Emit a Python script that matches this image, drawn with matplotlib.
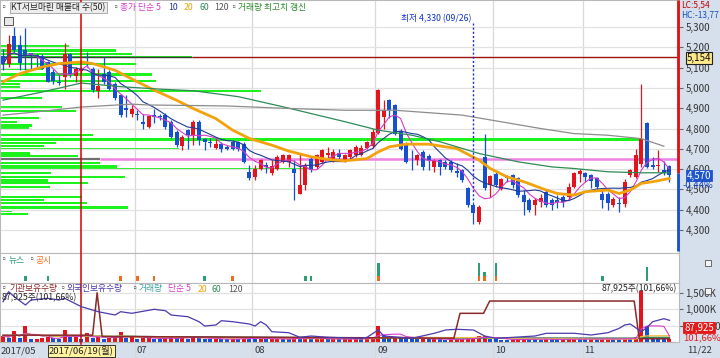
import numpy as np
import pandas as pd
import matplotlib
matplotlib.use('Agg')
import matplotlib.pyplot as plt
from matplotlib.patches import Rectangle
from matplotlib.ticker import FuncFormatter

plt.rcParams['font.family'] = ['Noto Sans CJK KR', 'DejaVu Sans']
plt.rcParams['axes.unicode_minus'] = False

# ---------------- data (KT서브마린, 2017/05/29 ~ 2017/11/22, 일봉) ----------------
opens = [5156, 5116, 5254, 5210, 5185, 5170, 5160, 5155, 5128, 5080,
         5030, 5054, 5169, 5057, 5082, 5125, 5095, 4987, 5070, 5080,
         5020, 4964, 4900, 4874, 4870, 4833, 4808, 4866, 4862, 4869,
         4833, 4784, 4713, 4795, 4767, 4833, 4748, 4732, 4705, 4726,
         4710, 4734, 4734, 4726, 4587, 4562, 4603, 4620, 4580, 4603,
         4636, 4636, 4603, 4480, 4521, 4652, 4611, 4636, 4669, 4644,
         4680, 4644, 4660, 4669, 4669, 4705, 4713, 4779, 4859, 4939,
         4915, 4790, 4726, 4652, 4644, 4685, 4664, 4611, 4644, 4636,
         4636, 4590, 4595, 4505, 4423, 4340, 4661, 4521, 4575, 4500,
         4562, 4570, 4554, 4472, 4448, 4423, 4439, 4489, 4448, 4448,
         4464, 4464, 4513, 4575, 4580, 4570, 4554, 4480, 4480, 4423,
         4435, 4430, 4570, 4562, 4625, 4825, 4620, 4615, 4598, 4615]
highs = [5193, 5259, 5300, 5259, 5297, 5172, 5165, 5168, 5135, 5095,
         5062, 5223, 5170, 5103, 5103, 5178, 5103, 5095, 5153, 5087,
         5030, 4972, 4964, 4915, 4890, 4874, 4869, 4898, 4870, 4877,
         4841, 4792, 4767, 4800, 4841, 4841, 4751, 4751, 4751, 4734,
         4718, 4743, 4740, 4734, 4620, 4620, 4652, 4636, 4644, 4669,
         4677, 4677, 4644, 4677, 4628, 4661, 4677, 4701, 4710, 4701,
         4701, 4677, 4701, 4718, 4718, 4741, 4796, 4997, 4939, 4943,
         4923, 4800, 4734, 4693, 4677, 4693, 4677, 4652, 4652, 4644,
         4644, 4628, 4603, 4513, 4439, 4423, 4775, 4570, 4595, 4554,
         4570, 4575, 4562, 4497, 4456, 4456, 4480, 4497, 4456, 4472,
         4472, 4530, 4587, 4603, 4587, 4575, 4562, 4505, 4489, 4464,
         4464, 4550, 4603, 4701, 5021, 4830, 4660, 4693, 4640, 4620]
lows = [5087, 5103, 5177, 5087, 5087, 5095, 5100, 5092, 5030, 5018,
        5015, 4997, 5054, 5030, 5075, 5105, 4980, 4950, 5020, 4990,
        4940, 4857, 4858, 4857, 4840, 4800, 4805, 4825, 4840, 4800,
        4751, 4710, 4693, 4700, 4718, 4718, 4693, 4710, 4700, 4685,
        4692, 4692, 4690, 4628, 4546, 4546, 4595, 4580, 4570, 4595,
        4628, 4611, 4446, 4480, 4497, 4587, 4603, 4628, 4644, 4636,
        4644, 4636, 4652, 4661, 4665, 4697, 4705, 4771, 4800, 4853,
        4767, 4693, 4628, 4595, 4620, 4595, 4595, 4587, 4570, 4603,
        4587, 4562, 4538, 4415, 4330, 4330, 4497, 4464, 4513, 4497,
        4538, 4505, 4464, 4374, 4390, 4374, 4415, 4415, 4398, 4407,
        4415, 4448, 4505, 4538, 4538, 4505, 4497, 4407, 4398, 4415,
        4390, 4415, 4562, 4554, 4610, 4605, 4603, 4587, 4570, 4538]
closes = [5116, 5215, 5185, 5123, 5156, 5160, 5150, 5095, 5030, 5033,
          5022, 5169, 5070, 5095, 5092, 5120, 4990, 5008, 5030, 4997,
          4950, 4866, 4890, 4898, 4865, 4820, 4860, 4857, 4858, 4808,
          4760, 4718, 4759, 4767, 4833, 4743, 4735, 4728, 4726, 4697,
          4697, 4700, 4700, 4636, 4554, 4603, 4644, 4610, 4616, 4661,
          4669, 4669, 4579, 4521, 4620, 4595, 4669, 4693, 4681, 4685,
          4660, 4669, 4693, 4710, 4705, 4734, 4784, 4990, 4890, 4890,
          4775, 4700, 4636, 4648, 4669, 4611, 4644, 4644, 4611, 4611,
          4595, 4580, 4546, 4423, 4382, 4415, 4505, 4566, 4521, 4550,
          4554, 4521, 4472, 4439, 4398, 4448, 4456, 4423, 4423, 4440,
          4439, 4513, 4579, 4590, 4560, 4541, 4513, 4448, 4431, 4451,
          4430, 4538, 4595, 4669, 4750, 4612, 4611, 4622, 4580, 4570]
volumes = [190, 120, 330, 120, 500, 90, 90, 120, 150, 120,
           80, 370, 150, 150, 90, 280, 120, 150, 90, 120,
           150, 300, 120, 150, 90, 120, 150, 90, 80, 120,
           150, 120, 150, 90, 180, 120, 90, 80, 100, 90,
           80, 90, 80, 150, 120, 100, 110, 80, 90, 110,
           90, 80, 150, 120, 130, 90, 100, 110, 80, 90,
           80, 90, 100, 110, 90, 120, 150, 500, 220, 160,
           160, 150, 130, 100, 90, 110, 80, 90, 80, 70,
           80, 90, 90, 120, 130, 170, 190, 90, 80, 70,
           60, 70, 80, 100, 90, 80, 70, 90, 80, 70,
           80, 90, 100, 90, 80, 90, 80, 100, 110, 80,
           70, 130, 110, 150, 1550, 480, 150, 110, 85, 88]  # 천주
last_volume = 87925

month_labels = ['2017/05', '07', '08', '09', '10', '11']
month_idx = [0, 24, 45, 67, 88, 104]
last_label = '11/22'
cursor_idx = 14
cursor_label = '2017/06/19(월)'
low_idx = 84
low_date = '09/26'

# 장기 이동평균
ma20_idx = [0, 3, 7, 10, 14, 16, 20, 24, 27, 31, 34, 38, 41, 44, 48, 51, 55, 58, 61, 65,
            67, 69, 72, 76, 79, 81, 85, 87, 90, 93, 97, 99, 102, 104, 108, 110, 112, 114, 116, 119]
ma20_val = [5030, 5070, 5103, 5120, 5128, 5120, 5087, 5030, 4989, 4939, 4898, 4849, 4792, 4751,
            4718, 4689, 4661, 4648, 4641, 4652, 4685, 4710, 4723, 4723, 4710, 4702, 4644, 4603,
            4562, 4538, 4497, 4480, 4472, 4489, 4497, 4480, 4497, 4530, 4538, 4554]
ma60_idx = [0, 7, 14, 21, 28, 34, 42, 50, 61, 67, 73, 78, 82, 85, 92, 98, 102, 108, 114, 119]
ma60_val = [4940, 4980, 5024, 5006, 4994, 4986, 4957, 4907, 4834, 4792, 4767, 4735, 4702, 4677,
            4636, 4611, 4603, 4587, 4582, 4582]
ma120_idx = [0, 7, 14, 23, 26, 40, 50, 61, 70, 82, 89, 96, 102, 108, 114, 118]
ma120_val = [4866, 4885, 4906, 4920, 4916, 4911, 4900, 4890, 4890, 4866, 4833, 4800, 4775, 4767,
             4750, 4713]

# 매물대 (가격대별 거래량)
vp_price = [5206, 5183, 5167, 5152, 5118, 5093, 5068, 5034, 5019, 5004, 4985, 4950, 4906, 4886,
            4852, 4832, 4817, 4802, 4768, 4748, 4729, 4714, 4699, 4679, 4665, 4630, 4615, 4601,
            4581, 4561, 4546, 4532, 4512, 4463, 4448, 4433, 4413, 4394, 4379]
vp_vol = [690, 1170, 1330, 1930, 1370, 430, 1530, 1570, 200, 200, 2620, 420, 620, 760,
          390, 170, 320, 290, 930, 6430, 560, 440, 1800, 300, 780, 1000, 1180, 3100,
          510, 1260, 480, 880, 500, 820, 440, 870, 1290, 120, 280]
line_high = 5154
line_mid = 4650

# 뉴스 / 공시
news_idx = [4, 8, 21, 24, 27, 36, 41, 54, 55, 67, 85, 86, 88, 107, 115]
news_cnt = [1, 1, 0, 0, 0, 1, 0, 1, 1, 3, 3, 1, 3, 1, 3]
disc_cnt = [0, 0, 1, 1, 1, 0, 1, 0, 0, 1, 1, 1, 1, 0, 0]

# 기관 / 외국인 보유수량
inst_idx = [0, 16, 16.8, 17.7, 60, 80.5, 81.6, 85.8, 86.9, 112.7, 113.6, 119]
inst_val = [25, 25, 180, 20, 16, 14, 105, 105, 150, 150, 12, 12]
frgn_idx = [0, 1, 2, 4, 5, 8, 10, 11, 14, 17, 20, 21, 23, 27, 29, 30, 33, 35, 36, 38,
            39, 41, 44, 45, 46, 47, 48, 51, 53, 55, 58, 64, 65, 67, 68, 73, 77, 79, 81, 84,
            86, 88, 90, 95, 97, 102, 105, 108, 110, 111, 112, 114, 115, 116, 118, 119]
frgn_val = [403, 503, 453, 370, 420, 437, 420, 437, 353, 303, 270, 303, 287, 327, 313, 270, 253, 203, 160, 170,
            213, 203, 180, 160, 203, 170, 103, 93, 47, 60, 47, 37, 47, 120, 60, 37, 87, 120, 127, 120,
            60, 37, 43, 60, 87, 87, 70, 93, 136, 170, 180, 103, 147, 203, 233, 217]

# ---------------- style ----------------
RED = '#E3141B'
BLUE = '#1550D0'
C5 = '#D63CCB'
C10 = '#1F3A95'
C20 = '#F2A20C'
C60 = '#2E8B57'
C120 = '#8C8C8C'
LIME = '#1CF21C'
PANEL = '#D6E0EC'
GRID = '#E2E2E2'
FS = 6.3

W, H = 720, 358
fig = plt.figure(figsize=(W / 100, H / 100), dpi=100, facecolor=PANEL)


def fx(px):
    return px / W


def fy(py):
    return 1 - py / H


def ftext(x, y, s, **kw):
    kw.setdefault('fontsize', FS)
    kw.setdefault('va', 'center')
    return fig.text(fx(x), fy(y), s, **kw)


xr = 679
xlim = (-0.54, 120.7)
ax = fig.add_axes([0, fy(253), fx(xr), 253 / H])
ax_news = fig.add_axes([0, fy(283), fx(xr), 30 / H])
ax_vol = fig.add_axes([0, fy(342), fx(xr), 59 / H])
ax_date = fig.add_axes([0, 0, fx(xr), 16 / H])

for a in (ax, ax_news, ax_vol, ax_date):
    a.set_xlim(*xlim)
    a.set_xticks([])
    for s in a.spines.values():
        s.set_color('#B8B8B8')
        s.set_linewidth(0.8)
    for m in month_idx[1:]:
        a.axvline(m - 0.5, color='#D8D8D8', lw=0.9, zorder=0)
ax_date.set_facecolor('none')
ax_date.set_yticks([])
for s in ax_date.spines.values():
    s.set_visible(False)

x = np.arange(len(closes))
o = np.array(opens)
c = np.array(closes)
up = c >= o
cols = np.where(up, RED, BLUE)

# ---- 가격 패널 ----
ax.set_ylim(4187, 5433)
ax.set_yticks(range(4300, 5301, 100))
ax.yaxis.tick_right()
ax.yaxis.set_major_formatter(FuncFormatter(lambda v, p: f'{int(v):,}'))
ax.tick_params(axis='y', direction='out', length=3, pad=1.5, labelsize=7,
               color='#666666', labelcolor='#333333')
ax.grid(axis='y', color=GRID, lw=0.9, zorder=0)

scale = 114.3 / max(vp_vol)
vp_w = np.array(vp_vol) * scale
ax.barh(vp_price, vp_w, left=xlim[0], height=14, color=LIME, zorder=1)

# 매물대 끝에 걸친 구간은 어둡게
hi_end = xlim[0] + vp_w[vp_price.index(5152)]
ax.hlines(line_high, hi_end, xlim[1], color='#A01010', lw=1.0, zorder=2)
ax.hlines(line_high, xlim[0], hi_end, color='#3A3A3A', lw=1.0, zorder=2)
mid_end = xlim[0] + vp_w[vp_price.index(4630)]
ax.hlines(line_mid, mid_end, xlim[1], color='#EE80E6', lw=1.8, zorder=2)
ax.hlines(line_mid, xlim[0], mid_end, color='#707070', lw=1.6, zorder=2)

ax.vlines(x, lows, highs, colors=cols, lw=0.9, zorder=3)
ax.bar(x, np.maximum(np.abs(c - o), 4), bottom=np.minimum(o, c), width=0.72,
       color=cols, linewidth=0, zorder=3.1)

cs = pd.Series(closes)
ax.plot(x, cs.rolling(5, min_periods=1).mean(), color=C5, lw=0.8, zorder=4)
ax.plot(x, cs.rolling(10, min_periods=1).mean(), color=C10, lw=0.8, zorder=4)
ax.plot(ma20_idx, ma20_val, color=C20, lw=2.0, zorder=4, solid_capstyle='round')
ax.plot(ma60_idx, ma60_val, color=C60, lw=0.9, zorder=4)
ax.plot(ma120_idx, ma120_val, color=C120, lw=0.9, zorder=4)

ax.vlines(low_idx, highs[low_idx] + 10, 5322, colors='#1030E0', lw=1.0,
          linestyles=(0, (1.5, 1.5)), zorder=4)
ax.text(low_idx - 0.4, 5340, f'최저 {lows[low_idx]:,} ({low_date})', color='#1030D0',
        fontsize=FS, ha='right', va='center', zorder=5)

# 오른쪽 끝 상승/하락 표시줄
ax.vlines(120.5, closes[-1] + 10, 5433, colors='#E01010', lw=2, zorder=5, clip_on=False)
ax.vlines(120.5, 4195, closes[-1] + 10, colors=BLUE, lw=2, zorder=5, clip_on=False)

for a in (ax, ax_news, ax_vol):
    a.axvline(cursor_idx, color='#D40000', lw=1.1, zorder=6)

# 상단 범례
ftext(0, 7, '▫', color='#666666', fontsize=6)
ftext(11, 7.5, 'KT서브마린 매물대 수(50)', color='#222222',
      bbox=dict(boxstyle='square,pad=0.15', fc='#EDEDED', ec='#A0A0A0', lw=0.6))
ftext(112, 7, '▫', color='#666666', fontsize=6)
ftext(120, 7.5, '종가 단순 5', color=C5)
ftext(168, 7.5, '10', color=C10)
ftext(184, 7.5, '20', color=C20)
ftext(199, 7.5, '60', color=C60)
ftext(214, 7.5, '120', color='#555555')
ftext(230, 7, '▫', color='#666666', fontsize=6)
ftext(238, 7.5, '거래량 최고치 갱신', color='#2E8B2E')
fig.add_artist(Rectangle((fx(4), fy(25)), 9 / W, 8 / H, fc='#E8E8E8', ec='#555555', lw=0.7))

# 오른쪽 가격축 주석
ftext(681, 5, 'LC:5,54', color='#C00000', fontsize=6)
ftext(681, 15, 'HC:-13,77', color='#1050C0', fontsize=6)
ftext(699, 58, f'{line_high:,}', color='#111111', fontsize=7, ha='center',
      bbox=dict(boxstyle='square,pad=0.12', fc='#FFE88A', ec='#222222', lw=0.8))
ftext(699, 175.5, f'{closes[-1]:,}', color='white', fontsize=7, ha='center',
      bbox=dict(boxstyle='square,pad=0.1', fc='#2055D0', ec='#2055D0', lw=0.6))
ftext(683, 185, '-0,44%', color='#1040C0', fontsize=6.8)

# ---- 뉴스 패널 ----
ax_news.set_ylim(-0.44, 6.2)
ax_news.set_yticks([])
ax_news.bar(news_idx, disc_cnt, width=0.45, color='#F26A1B', zorder=3)
ax_news.bar(news_idx, news_cnt, bottom=disc_cnt, width=0.45, color='#2E9E72', zorder=3)
ftext(0, 260, '▫', color='#666666', fontsize=6)
ftext(9, 260.5, '뉴스', color='#2E9E72')
ftext(28, 260, '▫', color='#666666', fontsize=6)
ftext(36, 260.5, '공시', color='#F26A1B')
fig.add_artist(Rectangle((fx(705), fy(266)), 6 / W, 6 / H, fc='#F4F4F4', ec='#555555', lw=0.6))

# ---- 거래량 패널 ----
vol = np.array(volumes)
vcols = np.where(np.r_[True, vol[1:] >= vol[:-1]], RED, BLUE)
ax_vol.set_ylim(0, 1790)
ax_vol.grid(axis='y', color=GRID, lw=0.9, zorder=0)
ax_vol.bar(x, vol, width=0.72, color=vcols, linewidth=0, zorder=2)
vs = pd.Series(volumes)
ax_vol.plot(x, vs.rolling(120, min_periods=1).mean(), color=C120, lw=0.9, zorder=3)
ax_vol.plot(x, vs.rolling(60, min_periods=1).mean(), color=C60, lw=0.9, zorder=3)
ax_vol.plot(x, vs.rolling(20, min_periods=1).mean(), color='#F2C040', lw=0.9, zorder=3)
ax_vol.plot(x, vs.rolling(5, min_periods=1).mean(), color=C5, lw=0.8, zorder=3)

ax_inst = ax_vol.twinx()
ax_inst.set_ylim(0, 216)
ax_inst.plot(inst_idx, inst_val, color='#8B2A2A', lw=1.1)
ax_frgn = ax_vol.twinx()
ax_frgn.set_ylim(0, 590)
ax_frgn.plot(frgn_idx, frgn_val, color='#4A3AAE', lw=0.9)
for a in (ax_inst, ax_frgn):
    a.set_xlim(*xlim)
    a.set_yticks([])
    for s in a.spines.values():
        s.set_visible(False)

# twinx() moves the base axis ticks to the left, so set them after
ax_vol.yaxis.tick_right()
ax_vol.set_yticks([500, 1000, 1500])
ax_vol.set_yticklabels(['500,000', '1,000K', '1,500K'])
ax_vol.tick_params(axis='y', which='both', left=False, labelleft=False, right=True,
                   labelright=True, direction='out', length=3, pad=1.5, labelsize=7,
                   color='#666666', labelcolor='#333333')

ftext(0, 288.5, '▫', color='#666666', fontsize=6)
ftext(9, 289, '기관보유수량', color='#8B2A2A')
ftext(59, 288.5, '▫', color='#666666', fontsize=6)
ftext(67, 289, '외국인보유수량', color='#4A3AAE')
ftext(131, 288.5, '▫', color='#666666', fontsize=6)
ftext(139, 289, '거래량', color='#3AA0A0')
ftext(168, 289, '단순 5', color=C5)
ftext(198, 289, '20', color=C20)
ftext(212, 289, '60', color=C60)
ftext(228, 289, '120', color='#555555')
vol_txt = f'{last_volume:,}주(101,66%)'
ftext(2, 298, vol_txt, color='#222222')
ftext(677, 289, vol_txt, color='#222222', ha='right')
ftext(699, 327.5, f'{last_volume:,}', color='white', fontsize=7, ha='center',
      bbox=dict(boxstyle='square,pad=0.1', fc='#E21A1A', ec='#E21A1A', lw=0.6))
ftext(683, 338, '101,66%', color='#E21A1A', fontsize=6.8)
fig.add_artist(Rectangle((fx(705), fy(294)), 6 / W, 6 / H, fc='#F4F4F4', ec='#555555', lw=0.6))

# ---- 날짜 축 ----
ax_date.set_ylim(0, 1)
ax_date.axvline(cursor_idx, ymin=0.85, color='#D40000', lw=1.1)
for lab, m in zip(month_labels, month_idx):
    xpos = m - 0.5 + 0.35 if m > 0 else -0.35
    ax_date.text(xpos, 0.45, lab, fontsize=6.8, color='#333333', va='center', ha='left')
ax_date.text(cursor_idx, 0.45, cursor_label, fontsize=6.8, color='#222222',
             ha='center', va='center',
             bbox=dict(boxstyle='square,pad=0.15', fc='#FFF3A0', ec='#333333', lw=0.7))
ftext(700, 350, last_label, color='#333333', fontsize=6.8, ha='center')

fig.savefig('out.png', dpi=100, facecolor=PANEL)
